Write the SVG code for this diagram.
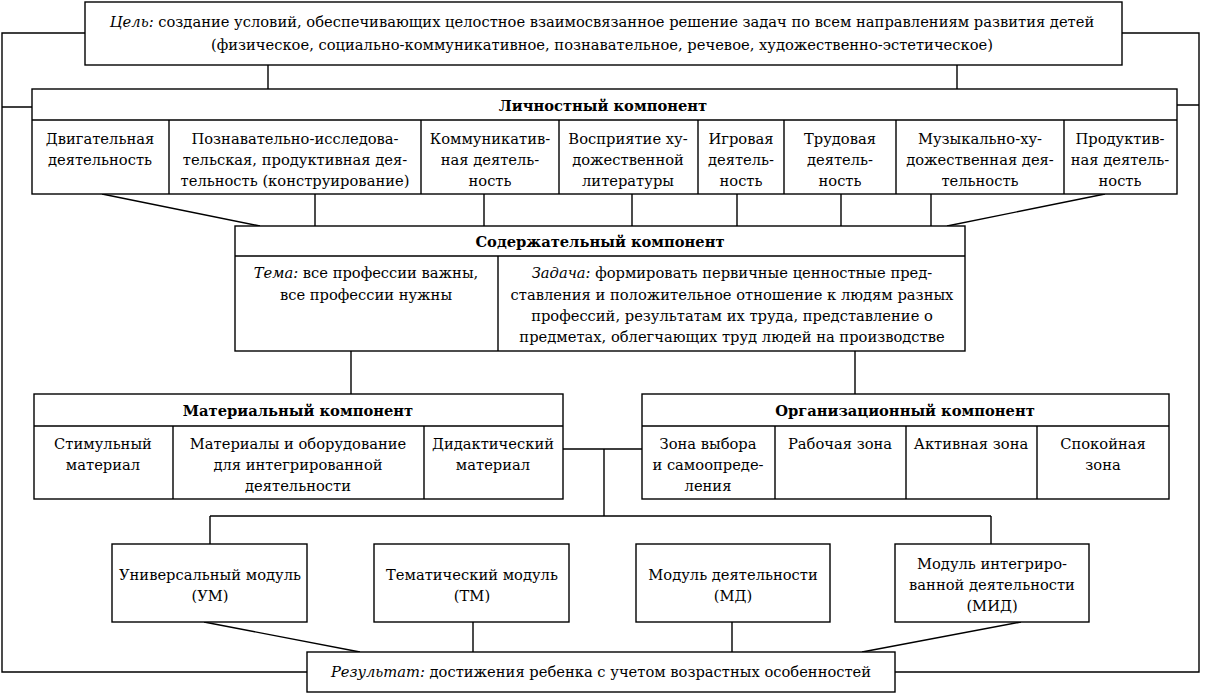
<svg xmlns="http://www.w3.org/2000/svg" width="1205" height="694" viewBox="0 0 1205 694">
<style>
.b{fill:#fff;stroke:#000;stroke-width:1.4}
.l{fill:none;stroke:#000;stroke-width:1.4}
text{font-family:"DejaVu Serif","Liberation Serif",serif;font-size:14.7px;fill:#000;text-anchor:middle}
.h{font-weight:bold}
.i{font-style:italic}
</style>
<rect width="1205" height="694" fill="#fff"/>
<g id="connectors">
<path class="l" d="M85,33H2V672H307M2,107H32"/>
<path class="l" d="M1122,33H1199V672H895M1177,105H1199"/>
<path class="l" d="M268,65V89M957,65V89"/>
<path class="l" d="M102,194L260,226M315,194V226M484,194V226M632,194V226M737,194V226M841,194V226M931,194V226M1105,194L947,226"/>
<path class="l" d="M351,351V394M855,351V394"/>
<path class="l" d="M563,449H642M604,449V516M210,516H991M210,516V544M991,516V544"/>
<path class="l" d="M204,622L360,652M473,622V652M732,622V652M1021,622L862,652"/>
</g>
<g id="goal">
<rect class="b" x="85" y="2" width="1037" height="63"/>
<text x="602" y="27"><tspan class="i">Цель:</tspan> создание условий, обеспечивающих целостное взаимосвязанное решение задач по всем направлениям развития детей</text>
<text x="602" y="50">(физическое, социально-коммуникативное, познавательное, речевое, художественно-эстетическое)</text>
</g>
<g id="personal">
<rect class="b" x="32" y="89" width="1145" height="105"/>
<path class="l" d="M32,120H1177M169,120V194M421,120V194M559,120V194M698,120V194M784,120V194M896,120V194M1064,120V194"/>
<text class="h" x="603" y="111">Личностный компонент</text>
<text x="100" y="144">Двигательная</text><text x="100" y="165">деятельность</text>
<text x="295" y="144">Познавательно-исследова-</text><text x="295" y="165">тельская, продуктивная дея-</text><text x="295" y="186">тельность (конструирование)</text>
<text x="490" y="144">Коммуникатив-</text><text x="490" y="165">ная деятель-</text><text x="490" y="186">ность</text>
<text x="628" y="144">Восприятие ху-</text><text x="628" y="165">дожественной</text><text x="628" y="186">литературы</text>
<text x="741" y="144">Игровая</text><text x="741" y="165">деятель-</text><text x="741" y="186">ность</text>
<text x="840" y="144">Трудовая</text><text x="840" y="165">деятель-</text><text x="840" y="186">ность</text>
<text x="980" y="144">Музыкально-ху-</text><text x="980" y="165">дожественная дея-</text><text x="980" y="186">тельность</text>
<text x="1120" y="144">Продуктив-</text><text x="1120" y="165">ная деятель-</text><text x="1120" y="186">ность</text>
</g>
<g id="content">
<rect class="b" x="235" y="226" width="730" height="125"/>
<path class="l" d="M235,256H965M498,256V351"/>
<text class="h" x="600" y="247">Содержательный компонент</text>
<text x="366" y="278"><tspan class="i">Тема:</tspan> все профессии важны,</text>
<text x="366" y="300">все профессии нужны</text>
<text x="732" y="278"><tspan class="i">Задача:</tspan> формировать первичные ценностные пред-</text>
<text x="732" y="300">ставления и положительное отношение к людям разных</text>
<text x="732" y="321">профессий, результатам их труда, представление о</text>
<text x="732" y="342">предметах, облегчающих труд людей на производстве</text>
</g>
<g id="material">
<rect class="b" x="34" y="394" width="529" height="105"/>
<path class="l" d="M34,426H563M173,426V499M424,426V499"/>
<text class="h" x="298" y="416">Материальный компонент</text>
<text x="103" y="449">Стимульный</text><text x="103" y="470">материал</text>
<text x="298" y="449">Материалы и оборудование</text><text x="298" y="470">для интегрированной</text><text x="298" y="491">деятельности</text>
<text x="493" y="449">Дидактический</text><text x="493" y="470">материал</text>
</g>
<g id="organizational">
<rect class="b" x="642" y="394" width="527" height="105"/>
<path class="l" d="M642,426H1169M775,426V499M906,426V499M1037,426V499"/>
<text class="h" x="905" y="416">Организационный компонент</text>
<text x="708" y="449">Зона выбора</text><text x="708" y="470">и самоопреде-</text><text x="708" y="491">ления</text>
<text x="840" y="449">Рабочая зона</text>
<text x="971" y="449">Активная зона</text>
<text x="1103" y="449">Спокойная</text><text x="1103" y="470">зона</text>
</g>
<g id="um">
<rect class="b" x="112" y="544" width="195" height="78"/>
<text x="210" y="580">Универсальный модуль</text><text x="210" y="601">(УМ)</text>
</g>
<g id="tm">
<rect class="b" x="374" y="544" width="195" height="78"/>
<text x="472" y="580">Тематический модуль</text><text x="472" y="601">(ТМ)</text>
</g>
<g id="md">
<rect class="b" x="636" y="544" width="194" height="78"/>
<text x="733" y="580">Модуль деятельности</text><text x="733" y="601">(МД)</text>
</g>
<g id="mid">
<rect class="b" x="895" y="544" width="194" height="78"/>
<text x="992" y="569">Модуль интегриро-</text><text x="992" y="590">ванной деятельности</text><text x="992" y="611">(МИД)</text>
</g>
<g id="result">
<rect class="b" x="307" y="652" width="588" height="40"/>
<text x="601" y="677"><tspan class="i">Результат:</tspan> достижения ребенка с учетом возрастных особенностей</text>
</g>
</svg>
